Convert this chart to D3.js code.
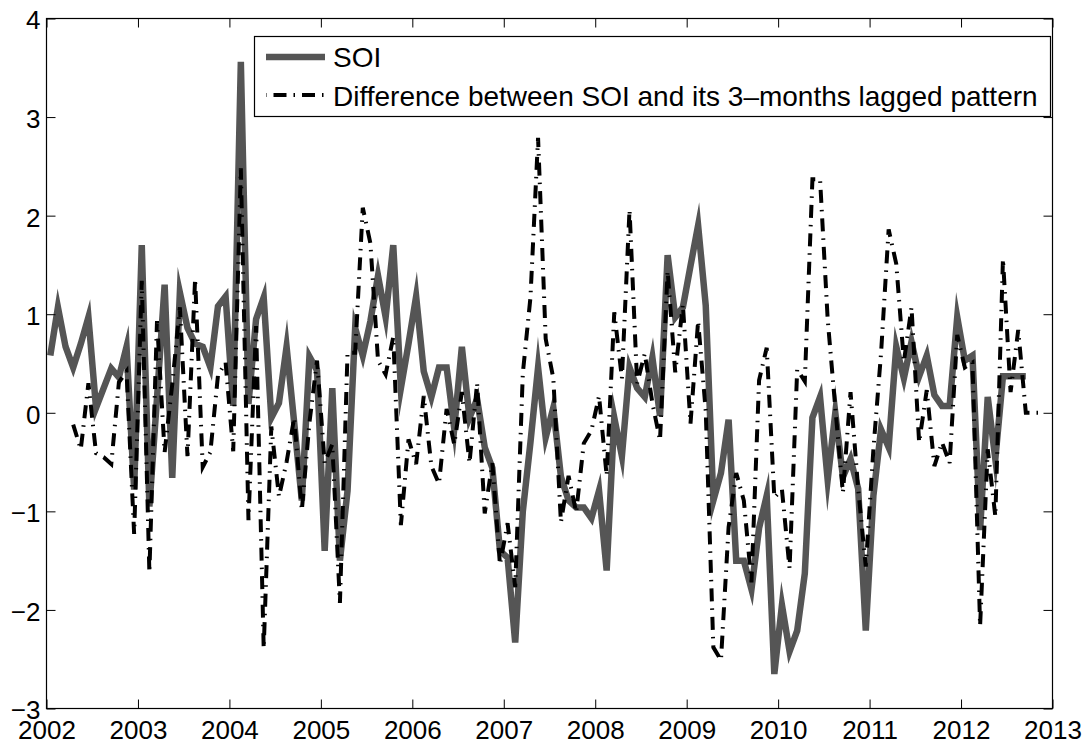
<!DOCTYPE html>
<html>
<head>
<meta charset="utf-8">
<script src="https://cdn.jsdelivr.net/npm/d3@7"></script>
<style>
  html, body { margin: 0; padding: 0; background: #fff; }
  svg { display: block; }
  text { font-family: "Liberation Sans", Arial, Helvetica, sans-serif; }
</style>
</head>
<body>
<svg id="chart" width="1091" height="746"></svg>
<script>
// ---- data (monthly, starting January 2002) ----
const startYear = 2002;
const soi = [
  0.58, 1.07, 0.67, 0.46, 0.70, 0.97, 0.05, 0.25, 0.45, 0.36, 0.67, -0.78,
  1.70, -0.95, 0.15, 1.30, -0.66, 1.22, 0.86, 0.70, 0.67, 0.46, 1.08, 1.18,
  0.07, 3.56, 0.09, 0.95, 1.17, -0.05, 0.10, 0.67, -0.10, -0.89, 0.57, 0.43,
  -1.40, 0.25, -1.50, -0.79, 0.86, 0.58, 0.93, 1.39, 0.97, 1.70, 0.25, 0.70,
  1.18, 0.42, 0.16, 0.46, 0.46, -0.16, 0.67, -0.05, 0.14, -0.35, -0.56, -1.40,
  -1.47, -2.33, -1.00, -0.30, 0.46, -0.25, 0.05, -0.65, -0.89, -0.96, -0.96, -1.07,
  -0.79, -1.60, -0.05, -0.44, 0.46, 0.25, 0.16, 0.56, -0.03, 1.60, 0.97, 1.07,
  1.49, 1.90, 1.09, -0.89, -0.61, -0.07, -1.50, -1.50, -1.79, -1.17, -0.84, -2.65,
  -1.95, -2.42, -2.21, -1.63, -0.05, 0.16, -0.68, 0.00, -0.65, -0.47, -0.77, -2.21,
  -0.84, -0.17, -0.35, 0.67, 0.35, 0.72, 0.37, 0.58, 0.18, 0.07, 0.07, 0.97,
  0.53, 0.58, -1.19, 0.16, -0.47, 0.37, 0.37, 0.37, 0.37
];
// difference series starts at month index 3 (April 2002)
const diffStart = 3;
const diff = [
  -0.12, -0.37, 0.30, -0.41, -0.45, -0.52, 0.31, 0.42, -1.23,
  1.34, -1.62, 0.93, -0.40, 0.29, 1.07, -0.44, 1.36, -0.55, -0.40, 0.38, 0.51,
  -0.39, 2.48, -1.09, 0.88, -2.39, -0.14, -0.85, -0.50, -0.05, -0.99, -0.10, 0.53,
  -0.51, -0.32, -1.93, 0.61, 0.61, 2.08, 1.72, 0.53, 0.39, 0.77, -1.14, -0.27,
  -0.52, 0.17, -0.54, -0.72, 0.04, -0.32, 0.21, -0.51, 0.30, -1.02, -0.51, -1.54,
  -1.12, -1.77, 0.40, 1.17, 2.79, 0.75, 0.35, -1.11, -0.64, -1.01, -0.31, -0.18,
  0.17, -0.64, 1.02, 0.35, 2.06, 0.30, 0.60, 0.10, -0.28, 1.44, 0.41, 1.10,
  -0.11, 0.93, 0.02, -2.38, -2.51, -1.16, -0.61, -0.89, -1.72, 0.33, 0.66, -0.86,
  -0.78, -1.58, 0.44, 0.32, 2.37, 2.37, 0.95, 0.05, -0.81, 0.21, -0.77, -1.56,
  -0.37, 0.60, 1.86, 1.51, 0.52, 1.07, -0.30, 0.23, -0.54, -0.30, -0.51, 0.79,
  0.46, 0.51, -2.16, -0.37, -1.05, 1.56, 0.21, 0.84, 0.00, 0.00, 0.00
];
const xTicks = [2002, 2003, 2004, 2005, 2006, 2007, 2008, 2009, 2010, 2011, 2012, 2013];
const yTicks = [-3, -2, -1, 0, 1, 2, 3, 4];
const legendLabels = ["SOI", "Difference between SOI and its 3\u2013months lagged pattern"];

// ---- layout ----
const svg = d3.select("#chart");
const L = 46.5, R = 1052.5, T = 18.5, B = 708.5;
const x = d3.scaleLinear().domain([2002, 2013]).range([L, R]);
const y = d3.scaleLinear().domain([-3, 4]).range([B, T]);
const monthX = i => startYear + (i + 0.5) / 12;

const soiPts = soi.map((v, i) => [monthX(i), v]);
const diffPts = diff.map((v, i) => [monthX(i + diffStart), v]);

const line = d3.line().x(d => x(d[0])).y(d => y(d[1]));

const soiColor = "#555555";
const soiWidth = 6.5;
const dashWidth = 4;
const dashPattern = "13,7,1.5,7";

svg.append("defs").append("clipPath").attr("id", "clip")
  .append("rect").attr("x", L).attr("y", T).attr("width", R - L).attr("height", B - T);

const g = svg.append("g").attr("clip-path", "url(#clip)");
g.append("path").datum(soiPts).attr("d", line)
  .attr("fill", "none").attr("stroke", soiColor).attr("stroke-width", soiWidth)
  .attr("stroke-linejoin", "miter").attr("stroke-miterlimit", 10);
g.append("path").datum(diffPts).attr("d", line)
  .attr("fill", "none").attr("stroke", "#000").attr("stroke-width", dashWidth)
  .attr("stroke-dasharray", dashPattern);

// ---- axes ----
const tickLen = 9;
const fs = 26;
const axB = d3.axisBottom(x).tickValues(xTicks).tickFormat(d3.format("d")).tickSizeInner(-tickLen).tickSizeOuter(0).tickPadding(12);
const axT = d3.axisTop(x).tickValues(xTicks).tickFormat("").tickSizeInner(-tickLen).tickSizeOuter(0);
const axL = d3.axisLeft(y).tickValues(yTicks).tickFormat(d => d < 0 ? "\u2212" + Math.abs(d) : d).tickSizeInner(-tickLen).tickSizeOuter(0).tickPadding(6);
const axR = d3.axisRight(y).tickValues(yTicks).tickFormat("").tickSizeInner(-tickLen).tickSizeOuter(0);

function style(sel) {
  sel.select(".domain").remove();
  sel.selectAll("line").attr("stroke", "#000").attr("stroke-width", 1);
  sel.selectAll("text").attr("font-size", fs).attr("fill", "#000")
    .style("font-family", '"Liberation Sans", Arial, sans-serif');
}
svg.append("g").attr("transform", `translate(0,${B})`).call(axB).call(style);
svg.append("g").attr("transform", `translate(0,${T})`).call(axT).call(style);
svg.append("g").attr("transform", `translate(${L},0)`).call(axL).call(style)
  .selectAll("text").attr("dy", "0.4em");
svg.append("g").attr("transform", `translate(${R},0)`).call(axR).call(style);

svg.append("rect").attr("x", L).attr("y", T).attr("width", R - L).attr("height", B - T)
  .attr("fill", "none").attr("stroke", "#000").attr("stroke-width", 1.2);

// ---- legend ----
const lfs = 28;
const lg = svg.append("g");
lg.append("rect").attr("x", 254.5).attr("y", 36.5).attr("width", 796).attr("height", 80)
  .attr("fill", "#fff").attr("stroke", "#000").attr("stroke-width", 1.2);
lg.append("line").attr("x1", 266).attr("x2", 325).attr("y1", 57).attr("y2", 57)
  .attr("stroke", soiColor).attr("stroke-width", soiWidth);
lg.append("line").attr("x1", 266).attr("x2", 325).attr("y1", 95).attr("y2", 95)
  .attr("stroke", "#000").attr("stroke-width", dashWidth)
  .attr("stroke-dasharray", dashPattern).attr("stroke-dashoffset", 21);
lg.append("text").attr("x", 333).attr("y", 67).attr("font-size", lfs).text(legendLabels[0]);
lg.append("text").attr("x", 333).attr("y", 106).attr("font-size", lfs).text(legendLabels[1]);
</script>
</body>
</html>
